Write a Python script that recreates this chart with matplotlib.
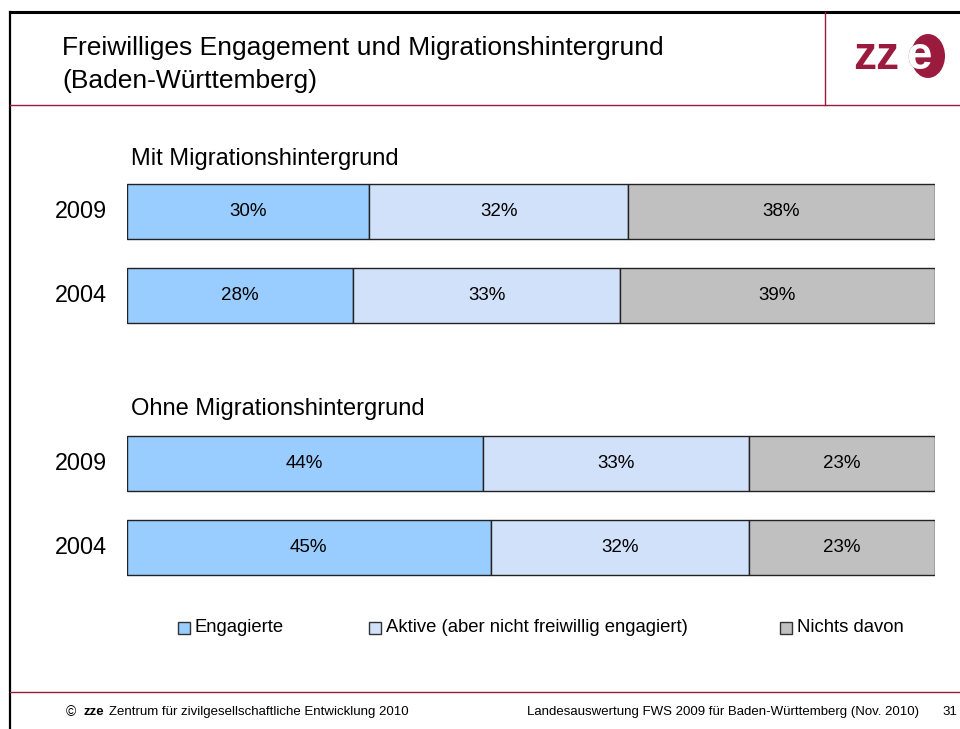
import matplotlib.pyplot as plt
from matplotlib.lines import Line2D
from matplotlib.patches import Rectangle, Ellipse

plt.rcParams['font.family'] = ['Liberation Sans', 'DejaVu Sans']

# data
years = ['2009', '2004', '2009', '2004']
groups = ['Mit Migrationshintergrund', 'Ohne Migrationshintergrund']
engagierte = [30, 28, 44, 45]
aktive = [32, 33, 33, 32]
nichts = [38, 39, 23, 23]
series_names = ['Engagierte', 'Aktive (aber nicht freiwillig engagiert)', 'Nichts davon']
colors = ['#99CCFF', '#D1E1FA', '#C0C0C0']
ypos = [0, 1, 3, 4]

W, H = 960, 729
fig = plt.figure(figsize=(W / 100, H / 100), dpi=100)


def fx(px):
    return px / W


def fy(py):
    return 1 - py / H


maroon = '#9B1B3F'

# frame
fig.add_artist(Line2D([fx(10), 1], [fy(12), fy(12)], color='black', lw=2.2))
fig.add_artist(Line2D([fx(10), fx(10)], [fy(12), 0], color='black', lw=1.6))
fig.add_artist(Line2D([fx(10), 1], [fy(105), fy(105)], color=maroon, lw=1))
fig.add_artist(Line2D([fx(825), fx(825)], [fy(12), fy(105)], color=maroon, lw=1))
fig.add_artist(Line2D([fx(10), 1], [fy(692), fy(692)], color=maroon, lw=1))

# title
fig.text(fx(62), fy(48), 'Freiwilliges Engagement und Migrationshintergrund',
         fontsize=19, va='center', ha='left')
fig.text(fx(62), fy(81), '(Baden-Württemberg)', fontsize=19, va='center', ha='left')

# logo
fig.text(fx(853), fy(57), 'zz', fontsize=33, color=maroon, ha='left', va='center',
         fontweight='bold')
circ = Ellipse((fx(928), fy(56)), 34 / W, 44 / H, transform=fig.transFigure,
               facecolor=maroon, edgecolor='none')
fig.add_artist(circ)
fig.text(fx(919), fy(57), 'e', fontsize=33, color=maroon, ha='center', va='center',
         fontweight='bold')
e_white = fig.text(fx(919), fy(57), 'e', fontsize=33, color='white', ha='center',
                   va='center', fontweight='bold')
e_white.set_clip_path(circ)

# bars
top_px, bot_px = 169.5, 590
ax = fig.add_axes([fx(127), fy(bot_px), fx(935) - fx(127), (bot_px - top_px) / H])
left = [0, 0, 0, 0]
for vals, c in zip([engagierte, aktive, nichts], colors):
    bars = ax.barh(ypos, vals, left=left, height=0.655, color=c,
                   edgecolor='#222222', linewidth=1)
    for b, v in zip(bars, vals):
        ax.text(b.get_x() + b.get_width() / 2, b.get_y() + b.get_height() / 2,
                f'{v}%', ha='center', va='center', fontsize=13.5)
    left = [l + v for l, v in zip(left, vals)]
ax.set_xlim(0, 100)
ax.set_ylim(4.5, -0.5)
ax.axis('off')

# year labels and section titles
for y, lab in zip(ypos, years):
    ax.text(-0.025, y, lab, transform=ax.get_yaxis_transform(), ha='right',
            va='center', fontsize=16.8)
fig.text(fx(131), fy(159), groups[0], fontsize=17, va='center')
fig.text(fx(131), fy(409), groups[1], fontsize=17, va='center')

# legend
for x0, name, c in zip([178, 369, 780], series_names, colors):
    fig.add_artist(Rectangle((fx(x0), fy(634)), fx(12), 12 / H, transform=fig.transFigure,
                             facecolor=c, edgecolor='#333333', lw=1))
    fig.text(fx(x0 + 17), fy(628), name, fontsize=13.3, va='center')

# footer
fig.text(fx(66), fy(712), '©', fontsize=10, va='center')
fig.text(fx(83), fy(712), 'zze', fontsize=9.5, va='center', fontweight='bold')
fig.text(fx(109), fy(712), 'Zentrum für zivilgesellschaftliche Entwicklung 2010',
         fontsize=9.5, va='center')
fig.text(fx(919), fy(712), 'Landesauswertung FWS 2009 für Baden-Württemberg (Nov. 2010)',
         fontsize=9.5, va='center', ha='right')
fig.text(fx(957), fy(712), '31', fontsize=9.5, va='center', ha='right')

fig.savefig('out.png', dpi=100)
